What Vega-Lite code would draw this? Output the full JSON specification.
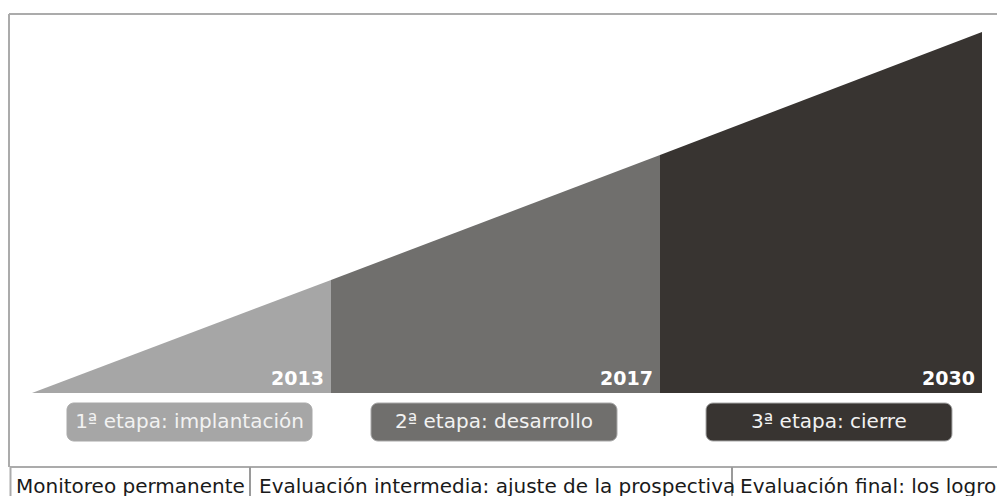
{
  "$schema": "https://vega.github.io/schema/vega-lite/v6.json",
  "width": 997,
  "height": 496,
  "autosize": {"type": "none"},
  "padding": 0,
  "background": "#ffffff",
  "config": {"view": {"stroke": null}},
  "datasets": {
    "triangle": [
      {"stage": "1", "pos": 32, "top": 103, "base": 103},
      {"stage": "1", "pos": 331, "top": 216, "base": 103},
      {"stage": "2", "pos": 331, "top": 216, "base": 103},
      {"stage": "2", "pos": 660, "top": 341, "base": 103},
      {"stage": "3", "pos": 660, "top": 341, "base": 103},
      {"stage": "3", "pos": 982, "top": 464, "base": 103}
    ],
    "years": [
      {"year": "2013", "pos": 324, "level": 111},
      {"year": "2017", "pos": 653, "level": 111},
      {"year": "2030", "pos": 975, "level": 111}
    ],
    "stages": [
      {"stage": "1", "label": "1ª etapa: implantación", "start": 67, "end": 312, "mid": 189.5, "low": 55, "high": 93, "center": 74},
      {"stage": "2", "label": "2ª etapa: desarrollo", "start": 371, "end": 617, "mid": 494, "low": 55, "high": 93, "center": 74},
      {"stage": "3", "label": "3ª etapa: cierre", "start": 706, "end": 952, "mid": 829, "low": 55, "high": 93, "center": 74}
    ],
    "evaluations": [
      {"text": "Monitoreo permanente", "pos": 16, "level": 3},
      {"text": "Evaluación intermedia: ajuste de la prospectiva", "pos": 259, "level": 3},
      {"text": "Evaluación final: los logros", "pos": 740, "level": 3}
    ],
    "frame": [
      {"kind": "frame", "a": 9, "b": 997, "c": 482, "d": 482},
      {"kind": "frame", "a": 9, "b": 9, "c": 482, "d": 29},
      {"kind": "frame", "a": 10, "b": 997, "c": 29, "d": 29},
      {"kind": "frame", "a": 10.5, "b": 10.5, "c": 29, "d": 0},
      {"kind": "divider", "a": 250, "b": 250, "c": 29, "d": 0},
      {"kind": "divider", "a": 732, "b": 732, "c": 29, "d": 0}
    ]
  },
  "layer": [
    {
      "data": {"name": "frame"},
      "mark": {"type": "rule", "strokeWidth": 2},
      "encoding": {
        "x": {"field": "a", "type": "quantitative", "scale": {"domain": [0, 997], "nice": false, "zero": false}, "axis": null},
        "x2": {"field": "b"},
        "y": {"field": "c", "type": "quantitative", "scale": {"domain": [0, 496], "nice": false, "zero": false}, "axis": null},
        "y2": {"field": "d"},
        "stroke": {"field": "kind", "type": "nominal", "scale": {"domain": ["frame", "divider"], "range": ["#ababab", "#9a9a9a"]}, "legend": null}
      }
    },
    {
      "data": {"name": "triangle"},
      "mark": {"type": "area", "line": false},
      "encoding": {
        "x": {"field": "pos", "type": "quantitative"},
        "y": {"field": "top", "type": "quantitative", "stack": null},
        "y2": {"field": "base"},
        "color": {"field": "stage", "type": "nominal", "scale": {"domain": ["1", "2", "3"], "range": ["#a6a6a6", "#706f6d", "#383431"]}, "legend": null}
      }
    },
    {
      "data": {"name": "years"},
      "mark": {"type": "text", "align": "right", "baseline": "alphabetic", "font": "DejaVu Sans", "fontWeight": "bold", "fontSize": 19, "color": "#ffffff"},
      "encoding": {
        "x": {"field": "pos", "type": "quantitative"},
        "y": {"field": "level", "type": "quantitative"},
        "text": {"field": "year"}
      }
    },
    {
      "data": {"name": "stages"},
      "mark": {"type": "rect", "cornerRadius": 7, "stroke": "#a8a8a8", "strokeWidth": 1},
      "encoding": {
        "x": {"field": "start", "type": "quantitative"},
        "x2": {"field": "end"},
        "y": {"field": "low", "type": "quantitative"},
        "y2": {"field": "high"},
        "color": {"field": "stage", "type": "nominal", "legend": null}
      }
    },
    {
      "data": {"name": "stages"},
      "mark": {"type": "text", "align": "center", "baseline": "middle", "font": "DejaVu Sans", "fontSize": 20, "color": "#f2f2f2"},
      "encoding": {
        "x": {"field": "mid", "type": "quantitative"},
        "y": {"field": "center", "type": "quantitative"},
        "text": {"field": "label"}
      }
    },
    {
      "data": {"name": "evaluations"},
      "mark": {"type": "text", "align": "left", "baseline": "alphabetic", "font": "DejaVu Sans", "fontSize": 20, "color": "#1a1a1a"},
      "encoding": {
        "x": {"field": "pos", "type": "quantitative"},
        "y": {"field": "level", "type": "quantitative"},
        "text": {"field": "text"}
      }
    }
  ]
}
